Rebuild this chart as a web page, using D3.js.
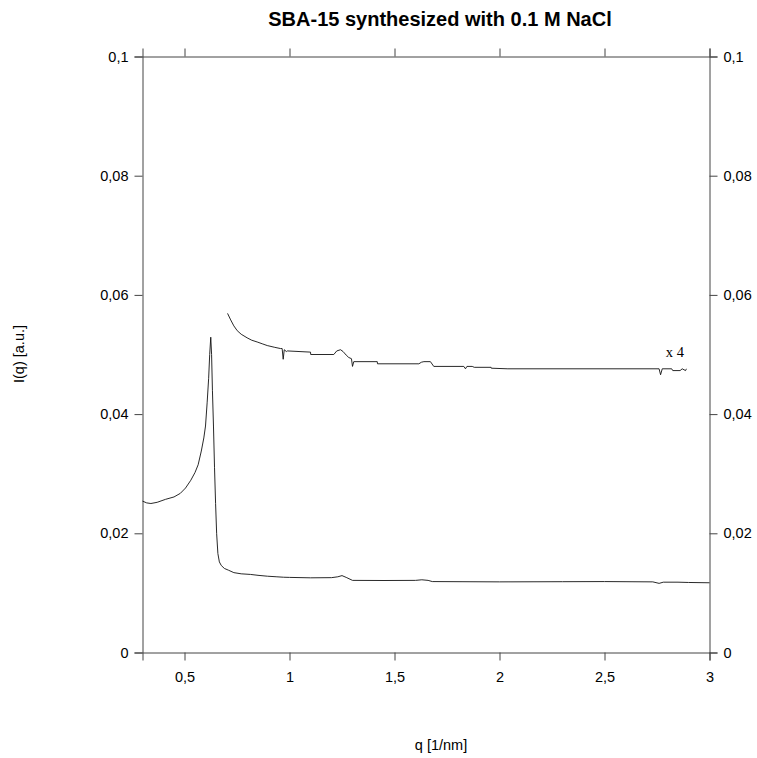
<!DOCTYPE html>
<html><head><meta charset="utf-8">
<script src="https://cdn.jsdelivr.net/npm/d3@7"></script>
<style>
html,body{margin:0;padding:0;background:#fff;}
</style></head>
<body><svg id="chart" width="757" height="758"></svg>
<script>
const title = "SBA-15 synthesized with 0.1 M NaCl";
const xLabel = "q [1/nm]";
const yLabel = "I(q) [a.u.]";
const scaleNote = "x 4";
const xTicks = [0.5, 1, 1.5, 2, 2.5, 3];
const yTicks = [0, 0.02, 0.04, 0.06, 0.08, 0.1];

const lowerQ = [0.300,0.320,0.340,0.370,0.410,0.450,0.480,0.505,0.530,0.550,0.565,0.580,0.592,0.600,0.608,0.615,0.620,0.625,0.629,0.633,0.638,0.643,0.648,0.653,0.659,0.666,0.675,0.690,0.710,0.735,0.770,0.814,0.850,0.895,0.940,0.971,1.000,1.100,1.200,1.230,1.250,1.270,1.300,1.450,1.600,1.630,1.660,1.680,2.000,2.300,2.500,2.730,2.760,2.780,2.850,2.900,3.000];
const lowerI = [0.0254,0.0251,0.0250,0.0252,0.0257,0.0261,0.0267,0.0276,0.0289,0.0302,0.0315,0.0338,0.0360,0.0380,0.0420,0.0460,0.0500,0.0529,0.0500,0.0440,0.0380,0.0310,0.0250,0.0200,0.0166,0.0152,0.0146,0.0141,0.0138,0.0134,0.0132,0.0131,0.01295,0.0128,0.0127,0.01263,0.0126,0.01253,0.01256,0.0127,0.0129,0.0126,0.0121,0.01208,0.0121,0.0122,0.0121,0.0119,0.01185,0.01188,0.0119,0.01185,0.0116,0.0118,0.0118,0.01175,0.0117];

const upperQ = [0.705,0.720,0.735,0.751,0.770,0.798,0.820,0.846,0.870,0.894,0.930,0.957,0.965,0.970,0.975,0.985,0.990,1.100,1.101,1.211,1.225,1.243,1.255,1.270,1.282,1.295,1.300,1.306,1.418,1.419,1.616,1.628,1.640,1.671,1.687,1.830,1.838,1.845,1.870,1.880,1.960,1.961,2.040,2.760,2.767,2.775,2.820,2.825,2.860,2.870,2.886,2.890];
const upperI = [0.0569,0.0558,0.0548,0.0540,0.0534,0.0528,0.0524,0.0521,0.0518,0.0515,0.0512,0.0510,0.0510,0.0492,0.0508,0.0505,0.0506,0.0504,0.0500,0.0500,0.0506,0.0508,0.0505,0.0499,0.0495,0.0493,0.0480,0.0488,0.0488,0.04844,0.04844,0.0487,0.0488,0.0488,0.0480,0.0480,0.0476,0.0480,0.0480,0.04785,0.04785,0.0477,0.0476,0.0476,0.0466,0.0476,0.0476,0.0473,0.0473,0.0476,0.0473,0.0476];

const svg = d3.select("#chart");
const SANS = "'Liberation Sans', Arial, Helvetica, sans-serif";
const SERIF = "'Liberation Serif', 'Times New Roman', serif";
const L = 142.5, R = 709.5, T = 56.5, B = 652.5;
const x = d3.scaleLinear().domain([0.3, 3]).range([L, R]);
const y = d3.scaleLinear().domain([0, 0.1]).range([B, T]);
const fmt = d => String(d).replace(".", ",");
const axisColor = "#444";

function styleAxis(g){
  g.selectAll("path").attr("stroke", axisColor).attr("stroke-width", 1);
  g.selectAll("line").attr("stroke", axisColor).attr("stroke-width", 1);
  g.selectAll("text").attr("fill", "#000").style("font-size", "14.5px").style("font-family", SANS);
}
svg.append("g").attr("transform", `translate(0,${B})`)
  .call(d3.axisBottom(x).tickValues(xTicks).tickFormat(fmt).tickSizeOuter(0).tickSize(8).tickPadding(11))
  .call(styleAxis);
svg.append("g").attr("transform", `translate(0,${T})`)
  .call(d3.axisTop(x).tickValues(xTicks).tickFormat("").tickSizeOuter(0).tickSize(8))
  .call(styleAxis);
svg.append("g").attr("transform", `translate(${L},0)`)
  .call(d3.axisLeft(y).tickValues(yTicks).tickFormat(fmt).tickSizeOuter(0).tickSize(8).tickPadding(6))
  .call(styleAxis);
svg.append("g").attr("transform", `translate(${R},0)`)
  .call(d3.axisRight(y).tickValues(yTicks).tickFormat(fmt).tickSizeOuter(0).tickSize(8).tickPadding(6))
  .call(styleAxis);

const line = d3.line().x(d => x(d[0])).y(d => y(d[1]));
const lower = lowerQ.map((q, i) => [q, lowerI[i]]);
const upper = upperQ.map((q, i) => [q, upperI[i]]);
svg.append("path").datum(lower).attr("d", line).attr("fill", "none").attr("stroke", "#111").attr("stroke-width", 0.9);
svg.append("path").datum(upper).attr("d", line).attr("fill", "none").attr("stroke", "#111").attr("stroke-width", 0.9);

svg.append("text").attr("x", x(2.792)).attr("y", 357).style("font-family", SERIF)
  .style("font-size", "14.5px").text(scaleNote);

svg.append("text").attr("x", 440).attr("y", 26).attr("text-anchor", "middle").style("font-family", SANS)
  .style("font-size", "20px").style("font-weight", "bold").text(title);
svg.append("text").attr("x", 441).attr("y", 750).attr("text-anchor", "middle").style("font-family", SANS)
  .style("font-size", "14.5px").text(xLabel);
svg.append("text").attr("transform", "translate(24,354) rotate(-90)").attr("text-anchor", "middle").style("font-family", SANS)
  .style("font-size", "14.5px").text(yLabel);
</script></body></html>
